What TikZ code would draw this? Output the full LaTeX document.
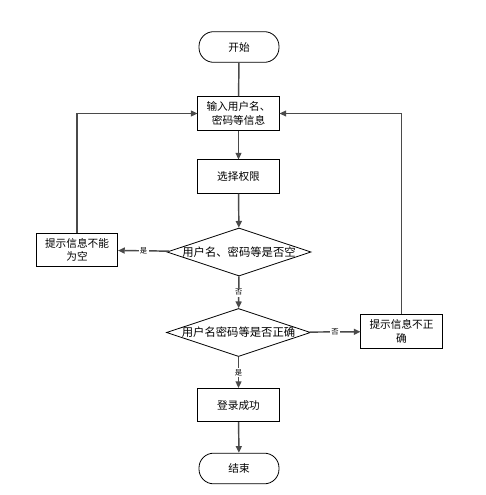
\documentclass[tikz,border=0pt]{standalone}
\usepackage{fontspec}
\newfontfamily\cjk{Noto Sans CJK SC}
\usetikzlibrary{shapes.geometric,arrows.meta}
\definecolor{flowgray}{HTML}{4A4A4A}
\tikzset{
    every node/.style={font=\cjk\fontsize{8}{10}\selectfont},
    terminal/.style={rectangle,rounded corners=11pt,draw,line width=0.6pt,minimum width=60pt,minimum height=23pt,inner sep=2pt},
    process/.style={rectangle,draw,line width=0.6pt,minimum width=61pt,minimum height=25pt,inner sep=2pt,align=center},
    decision/.style={diamond,draw,line width=0.6pt,minimum width=108pt,minimum height=36pt,inner sep=0pt},
    asktext/.style={font=\cjk\fontsize{8.5}{10}\selectfont},
    yn/.style={fill=white,inner sep=1pt,font=\cjk\fontsize{5.5}{6}\selectfont},
    flow/.style={draw=flowgray,line width=1.1pt,-{Triangle[length=5pt,width=4.5pt]}},
    plain/.style={draw=flowgray,line width=1.1pt}
}
\begin{document}
\begin{tikzpicture}[x=0.75pt,y=-0.75pt]
\useasboundingbox (0,0) rectangle (485,495);
% nodes
\node[terminal] (start) at (239,47) {开始};
\node[process] (input) at (238.5,113.5) {输入用户名、\\密码等信息};
\node[process] (role) at (238.5,176.5) {选择权限};
\node[decision,label={[asktext]center:用户名、密码等是否空}] (chk1) at (239,252) {};
\node[process] (empty) at (77,250) {提示信息不能\\为空};
\node[decision,label={[asktext]center:用户名密码等是否正确}] (chk2) at (238.5,332.5) {};
\node[process] (wrong) at (401.5,331.5) {提示信息不正\\确};
\node[process] (ok) at (238.5,405) {登录成功};
\node[terminal] (stop) at (239,468.5) {结束};
% connectors
\draw[plain] (start) -- (input);
\draw[flow] (input) -- (role);
\draw[flow] (role) -- (chk1);
\draw[flow] (chk1) -- node[yn] {是} (empty);
\draw[flow] (chk1) -- node[yn] {否} (chk2);
\draw[flow] (chk2) -- node[yn] {否} (wrong);
\draw[flow] (chk2) -- node[yn] {是} (ok);
\draw[flow] (ok) -- (stop);
\draw[flow] (empty.north) |- (input.west);
\draw[flow] (wrong.north) |- (input.east);
\end{tikzpicture}
\end{document}
